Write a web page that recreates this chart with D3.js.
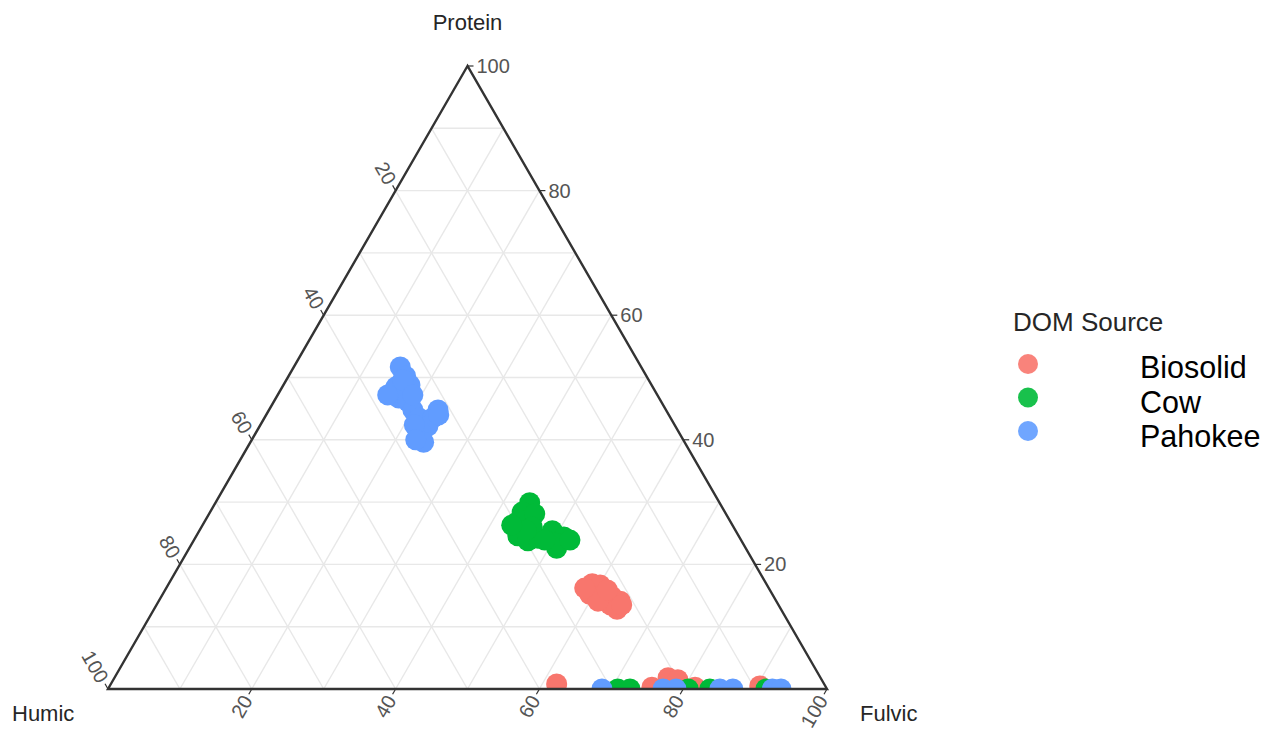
<!DOCTYPE html>
<html>
<head>
<meta charset="utf-8">
<script src="https://cdn.jsdelivr.net/npm/d3@7"></script>
<style>
  html, body { margin: 0; padding: 0; background: #fff; }
  svg { display: block; font-family: "Liberation Sans", Arial, Helvetica, sans-serif; }
</style>
</head>
<body>
<svg id="chart" width="1271" height="730"></svg>
<script>
// Ternary composition of DOM fluorescence components, [Protein, Humic, Fulvic] in %
const biosolid = [
  [16.9, 24.2, 58.9], [16.7, 23.2, 60.1], [15.2, 25.4, 59.4], [15.1, 23.6, 61.3],
  [14.9, 22.5, 62.6], [14.1, 21.7, 64.2], [13.5, 23.4, 63.1], [12.8, 22.8, 64.4],
  [14.1, 24.8, 61.1], [15.9, 22.6, 61.5], [13.5, 21.8, 64.7], [16.2, 25.6, 58.2],
  [0.8, 37.2, 62.0], [0.3, 24.2, 75.5], [1.8, 21.2, 77.0], [1.5, 20.0, 78.5],
  [0.3, 18.2, 81.5], [0.5, 9.1, 90.4]
];
const cow = [
  [29.9, 26.4, 43.7], [28.4, 28.2, 43.4], [26.8, 29.7, 43.5], [27.1, 28.3, 44.6],
  [28.1, 26.6, 45.3], [24.6, 30.7, 44.7], [23.8, 29.7, 46.5], [24.2, 28.1, 47.7],
  [26.0, 28.0, 46.0], [25.4, 25.5, 49.1], [24.4, 24.4, 51.2], [23.4, 26.0, 50.6],
  [22.6, 26.3, 51.1], [23.9, 27.3, 48.8], [25.5, 29.1, 45.4], [23.9, 23.8, 52.3],
  [26.3, 30.7, 43.0],
  [0, 29.1, 70.9], [0, 27.4, 72.6], [0, 19.3, 80.7], [0, 16.3, 83.7], [0, 8.5, 91.5]
];
const pahokee = [
  [51.7, 33.5, 14.8], [50.2, 33.5, 16.3], [48.8, 33.6, 17.6], [47.7, 36.5, 15.8],
  [46.7, 36.2, 17.1], [46.1, 35.2, 18.7], [44.8, 35.2, 20.0], [43.5, 35.0, 21.5],
  [44.8, 31.7, 23.5], [43.5, 33.1, 23.4], [42.2, 34.4, 23.4], [41.3, 35.9, 22.8],
  [39.6, 36.3, 24.1], [42.4, 36.2, 21.4], [48.5, 35.7, 15.8], [49.6, 34.2, 16.2],
  [44.0, 32.0, 24.0], [40.0, 37.2, 22.8], [47.2, 37.5, 15.3], [47.2, 34.0, 18.8],
  [0, 31.3, 68.7], [0, 22.8, 77.2], [0, 21.0, 79.0], [0, 14.9, 85.1],
  [0, 13.1, 86.9], [0, 7.6, 92.4], [0, 6.4, 93.6]
];

const sources = ["Biosolid", "Cow", "Pahokee"];
const sourceData = [biosolid, cow, pahokee];
const sourceColors = ["#F8766D", "#00BA38", "#619CFF"];
const axisNames = ["Protein", "Humic", "Fulvic"];
const tickValues = [20, 40, 60, 80, 100];
const gridValues = [10, 20, 30, 40, 50, 60, 70, 80, 90];

const svg = d3.select("#chart");

// Horizontal position follows Fulvic + Protein/2, vertical follows Protein
const xScale = d3.scaleLinear().domain([0, 100]).range([108, 827]);
const yScale = d3.scaleLinear().domain([0, 100]).range([689, 66]);

function project(p, h, f) {
  const s = p + h + f;
  const pn = 100 * p / s, fn = 100 * f / s;
  return [xScale(fn + pn / 2), yScale(pn)];
}

const vTop = project(100, 0, 0), vLeft = project(0, 100, 0), vRight = project(0, 0, 100);
const triPath = "M" + [vTop, vLeft, vRight].join("L") + "Z";

svg.append("defs").append("clipPath").attr("id", "tri")
  .append("path").attr("d", triPath);

// grid
const grid = svg.append("g").attr("stroke", "#e8e8e8").attr("stroke-width", 1.4).attr("fill", "none");
gridValues.forEach(v => {
  const w = 100 - v;
  [[project(v, w, 0), project(v, 0, w)],
   [project(0, v, w), project(w, v, 0)],
   [project(0, w, v), project(w, 0, v)]].forEach(seg => {
    grid.append("line")
      .attr("x1", seg[0][0]).attr("y1", seg[0][1])
      .attr("x2", seg[1][0]).attr("y2", seg[1][1]);
  });
});

// points
const pts = svg.append("g").attr("clip-path", "url(#tri)");
sourceData.forEach((rows, i) => {
  pts.selectAll(null).data(rows).enter().append("circle")
    .attr("cx", d => project(d[0], d[1], d[2])[0])
    .attr("cy", d => project(d[0], d[1], d[2])[1])
    .attr("r", 10.5)
    .attr("fill", sourceColors[i]);
});

// triangle border
svg.append("path")
  .attr("d", triPath)
  .attr("fill", "none").attr("stroke", "#333").attr("stroke-width", 2.4)
  .attr("stroke-linejoin", "miter");

// ticks and tick labels
const tickLen = 6, labGap = 9;
const axes = [
  { at: v => project(v, 0, 100 - v), dir: [1, 0], rot: 0, anchor: "start" },              // Protein, right edge
  { at: v => project(100 - v, v, 0), dir: [-0.5, -0.866], rot: 60, anchor: "end" },       // Humic, left edge
  { at: v => project(0, 100 - v, v), dir: [-0.5, 0.866], rot: -60, anchor: "end" }        // Fulvic, bottom edge
];
const tickG = svg.append("g");
axes.forEach(ax => {
  tickValues.forEach(v => {
    const e = ax.at(v);
    tickG.append("line")
      .attr("x1", e[0]).attr("y1", e[1])
      .attr("x2", e[0] + ax.dir[0] * tickLen).attr("y2", e[1] + ax.dir[1] * tickLen)
      .attr("stroke", "#333").attr("stroke-width", 1.2);
    const lx = e[0] + ax.dir[0] * labGap, ly = e[1] + ax.dir[1] * labGap;
    tickG.append("text")
      .attr("transform", `translate(${lx},${ly}) rotate(${ax.rot})`)
      .attr("text-anchor", ax.anchor)
      .attr("dominant-baseline", "central")
      .attr("font-size", 20).attr("fill", "#555")
      .text(v);
  });
});

// axis titles
const titleG = svg.append("g").attr("font-size", 22).attr("fill", "#262626");
titleG.append("text").attr("x", vTop[0]).attr("y", vTop[1] - 36).attr("text-anchor", "middle").text(axisNames[0]);
titleG.append("text").attr("x", vLeft[0] - 96).attr("y", vLeft[1] + 32).text(axisNames[1]);
titleG.append("text").attr("x", vRight[0] + 33).attr("y", vRight[1] + 32).text(axisNames[2]);

// legend
const legend = svg.append("g").attr("transform", "translate(1013,331)");
legend.append("text").attr("x", 0).attr("y", 0).attr("font-size", 26).attr("fill", "#262626").text("DOM Source");
sources.forEach((s, i) => {
  legend.append("circle").attr("cx", 15).attr("cy", 33 + i * 33.5).attr("r", 10).attr("fill", sourceColors[i]).attr("opacity", 0.9);
  legend.append("text").attr("x", 127).attr("y", 47 + i * 34.5).attr("font-size", 30.5).attr("fill", "#000").text(s);
});
</script>
</body>
</html>
